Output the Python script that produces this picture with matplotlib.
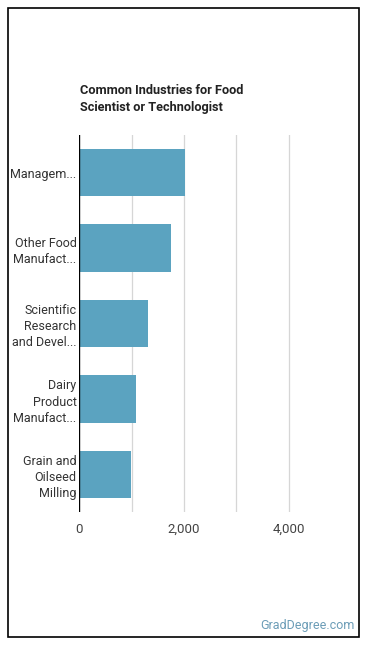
import matplotlib
matplotlib.use("Agg")
from matplotlib import pyplot
from matplotlib.patches import Rectangle

industries = ["Managem...", "Other Food\nManufact...", "Scientific\nResearch\nand Devel...",
              "Dairy\nProduct\nManufact...", "Grain and\nOilseed\nMilling"]
workers = [2010, 1760, 1320, 1090, 980]
tick_values = [0, 2000, 4000]
tick_labels = ["0", "2,000", "4,000"]

pyplot.rcParams['font.family'] = ['Roboto', 'DejaVu Sans']

W, H = 370, 648
fig = pyplot.figure(figsize=(W / 100, H / 100), dpi=100)

# outer frame
fig.patches.append(Rectangle((8 / W, 1 - 637 / H), 351 / W, 629 / H,
                             transform=fig.transFigure, fill=False,
                             edgecolor='black', linewidth=1.2))

left, right, top, bottom = 79.3, 341, 135, 512
ax = fig.add_axes([left / W, 1 - bottom / H, (right - left) / W, (bottom - top) / H])

ys = list(range(len(industries)))
ax.barh(ys, workers, height=0.63, color='#5ba3c0', zorder=3)
ax.set_ylim(len(industries) - 0.5, -0.5)
ax.set_xlim(0, 5000)

for g in [1000, 2000, 3000, 4000]:
  ax.axvline(g, color='#d6d6d6', linewidth=0.9, zorder=1)
ax.axvline(0, color='black', linewidth=1.0, zorder=4)

for s in ax.spines.values():
  s.set_visible(False)

ax.set_yticks(ys)
ax.set_yticklabels(industries, fontsize=9, color='#333333', linespacing=1.33)
ax.set_xticks(tick_values)
ax.set_xticklabels(tick_labels, fontsize=9.5, color='#444444')
ax.tick_params(axis='both', length=0)
ax.tick_params(axis='y', pad=2)
ax.tick_params(axis='x', pad=8)

fig.text(80 / W, 1 - 84 / H, "Common Industries for Food\nScientist or Technologist",
         fontsize=9.2, fontweight='bold', color='#222222', ha='left', va='top',
         linespacing=1.4)

fig.text(355 / W, 1 - 626 / H, "GradDegree.com", fontsize=9, color='#6c9db7',
         ha='right', va='center')

pyplot.savefig('out.png', dpi=100)
